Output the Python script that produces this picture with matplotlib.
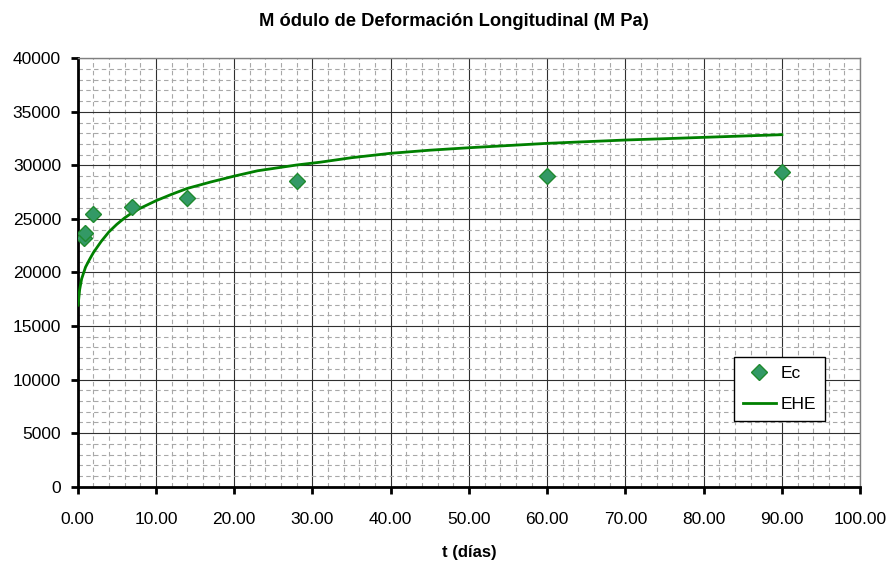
import matplotlib.pyplot as plt
from matplotlib.ticker import MultipleLocator, FormatStrFormatter

plt.rcParams["font.family"] = ["Liberation Sans", "DejaVu Sans"]

# measured points (Ec)
t_ec = [0.75, 0.9, 2, 7, 14, 28, 60, 90]
ec = [23200, 23650, 25430, 26140, 26980, 28540, 29010, 29360]

# EHE curve
t_ehe = [0.05, 0.25, 0.5, 1, 1.5, 2, 3, 4, 5, 6, 7, 8, 10, 12, 14, 17, 20,
         23, 28, 31, 35, 40, 45, 50, 60, 70, 80, 90]
ehe = [16950, 18400, 19400, 20500, 21200, 21850, 22900, 23800, 24500, 25100,
       25600, 26000, 26700, 27300, 27850, 28450, 29000, 29500, 30040, 30300,
       30720, 31130, 31420, 31650, 32060, 32370, 32620, 32870]

fig = plt.figure(figsize=(8.88, 5.64), dpi=100)
ax = fig.add_axes([0.0875, 0.1371, 0.8811, 0.7595])

ax.plot(t_ec, ec, linestyle="none", marker="D", markersize=8,
        markerfacecolor="#339966", markeredgecolor="#1f8a2e", markeredgewidth=1,
        label="Ec", zorder=4)
ax.plot(t_ehe, ehe, color="#008000", linewidth=2, label="EHE", zorder=3)

ax.set_xlim(0, 100)
ax.set_ylim(0, 40000)
ax.xaxis.set_major_locator(MultipleLocator(10))
ax.xaxis.set_minor_locator(MultipleLocator(2))
ax.yaxis.set_major_locator(MultipleLocator(5000))
ax.yaxis.set_minor_locator(MultipleLocator(1000))
ax.xaxis.set_major_formatter(FormatStrFormatter("%.2f"))

ax.grid(which="major", color="#303030", linewidth=0.8, zorder=1)
ax.grid(which="minor", color="#a8a8a8", linewidth=0.8,
        linestyle=(0, (4, 3)), zorder=0)
ax.set_axisbelow(True)

for side in ["top", "right"]:
    ax.spines[side].set_color("#808080")
    ax.spines[side].set_linewidth(1)
for side in ["left", "bottom"]:
    ax.spines[side].set_color("black")
    ax.spines[side].set_linewidth(2)

ax.tick_params(which="major", direction="out", length=5, width=2,
               labelsize=12.5)
ax.tick_params(axis="x", which="major", pad=13)
ax.tick_params(axis="y", which="major", pad=7)
ax.tick_params(which="minor", length=0)

fig.text(454 / 888, 1 - 21 / 564, "M ódulo de Deformación Longitudinal (M Pa)",
         fontsize=13.2, fontweight="bold", ha="center", va="center")
ax.set_xlabel("t (días)", fontsize=12, fontweight="bold", labelpad=13)

leg = ax.legend(loc="lower right", bbox_to_anchor=(0.955, 0.153),
                frameon=True, fancybox=False, fontsize=12.5,
                handlelength=1.9, borderpad=0.5, labelspacing=0.95,
                handletextpad=0.3, borderaxespad=0)
leg.get_frame().set_edgecolor("black")
leg.get_frame().set_linewidth(1)
leg.get_frame().set_alpha(1)

fig.savefig("out.png", dpi=100)
